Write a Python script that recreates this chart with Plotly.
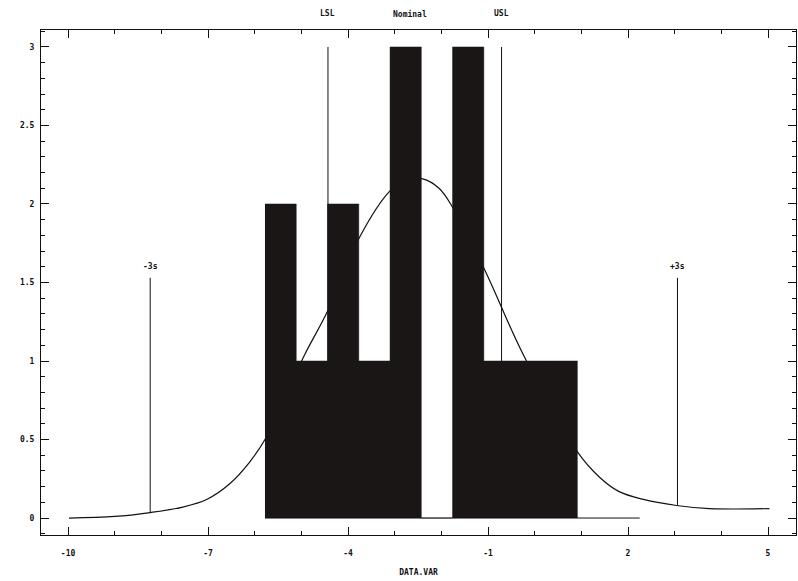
import plotly.graph_objects as go

# ---- data ----
bin_edges = [-5.78, -5.11, -4.44, -3.77, -3.10, -2.43, -1.76, -1.09, -0.42, 0.25, 0.92]
counts = [2, 1, 2, 1, 3, 0, 3, 1, 1, 1]

curve_x = [-9.98, -9.00, -8.24, -7.54, -7.02, -6.53, -6.10, -5.78, -4.93, -4.45, -3.75, -3.11,
           -2.78, -2.40, -2.05, -1.76, -1.07, -0.26, 0.92, 1.39, 1.80, 2.31, 3.04, 3.75, 5.03]
curve_y = [0.00, 0.01, 0.035, 0.07, 0.12, 0.22, 0.36, 0.50, 1.04, 1.31, 1.79, 2.08,
           2.15, 2.16, 2.10, 1.98, 1.58, 1.05, 0.42, 0.26, 0.17, 0.12, 0.08, 0.06, 0.06]

spec_names = ["LSL", "Nominal", "USL"]
spec_values = [-4.43, -2.68, -0.71]
spec_top = 3.0

sigma_names = ["-3s", "+3s"]
sigma_values = [-8.24, 3.06]
sigma_bottom = [0.035, 0.08]
sigma_top = 1.53

baseline_x = [-5.78, 2.25]
baseline_y = [0.0, 0.0]

x_title = "DATA.VAR"
x_ticks = [-10, -7, -4, -1, 2, 5]
y_ticks = [0, 0.5, 1, 1.5, 2, 2.5, 3]

INK = "#111111"
BAR = "#1b1616"

fig = go.Figure()

# spec limit lines (drawn first, beneath bars)
for v in spec_values:
    fig.add_trace(go.Scatter(x=[v, v], y=[0, spec_top], mode="lines",
                             line=dict(color=INK, width=1), hoverinfo="skip"))

# fitted curve
fig.add_trace(go.Scatter(x=curve_x, y=curve_y, mode="lines", line_shape="spline",
                         line=dict(color=INK, width=1.2), hoverinfo="skip"))

# histogram bars as a filled step outline (so they sit above the curve)
fig.add_trace(go.Scatter(x=bin_edges, y=counts + [counts[-1]], mode="lines",
                         line_shape="hv", fill="tozeroy", fillcolor=BAR,
                         line=dict(color=BAR, width=0.5), hoverinfo="skip"))

# baseline
fig.add_trace(go.Scatter(x=baseline_x, y=baseline_y, mode="lines",
                         line=dict(color=INK, width=1), hoverinfo="skip"))

# +/- 3 sigma lines
for v, b in zip(sigma_values, sigma_bottom):
    fig.add_trace(go.Scatter(x=[v, v], y=[b, sigma_top], mode="lines",
                             line=dict(color=INK, width=1), hoverinfo="skip"))

lab_font = dict(family="DejaVu Sans Mono", size=8, color=INK, weight="bold")

annotations = []
for n, v in zip(spec_names, spec_values):
    annotations.append(dict(x=v, y=1.032, xref="x", yref="paper", yanchor="middle",
                            text=n, showarrow=False, font=lab_font))
for n, v in zip(sigma_names, sigma_values):
    annotations.append(dict(x=v, y=sigma_top + 0.07, xref="x", yref="y", text=n,
                            showarrow=False, font=lab_font))

fig.update_layout(
    width=798, height=581,
    margin=dict(l=41, r=2, t=30, b=46),
    paper_bgcolor="white", plot_bgcolor="white",
    showlegend=False,
    annotations=annotations,
    xaxis=dict(range=[-10.58, 5.6], tickvals=x_ticks, ticktext=[str(t) for t in x_ticks],
               ticks="inside", ticklen=8, tickcolor=INK, showline=True, linecolor=INK,
               linewidth=1, mirror="ticks", showgrid=False, zeroline=False,
               tickfont=lab_font, ticklabelstandoff=10,
               minor=dict(dtick=1, tick0=-10, ticks="inside", ticklen=4, tickcolor=INK),
               title=dict(text=x_title, font=lab_font, standoff=12)),
    yaxis=dict(range=[-0.108, 3.108], tickvals=y_ticks,
               ticktext=["0", "0.5", "1", "1.5", "2", "2.5", "3"],
               ticks="inside", ticklen=8, tickcolor=INK, showline=True, linecolor=INK,
               linewidth=1, mirror="ticks", showgrid=False, zeroline=False,
               tickfont=lab_font, ticklabelstandoff=4,
               minor=dict(dtick=0.1, tick0=0, ticks="inside", ticklen=4, tickcolor=INK)),
)

fig.write_html("out.html")
